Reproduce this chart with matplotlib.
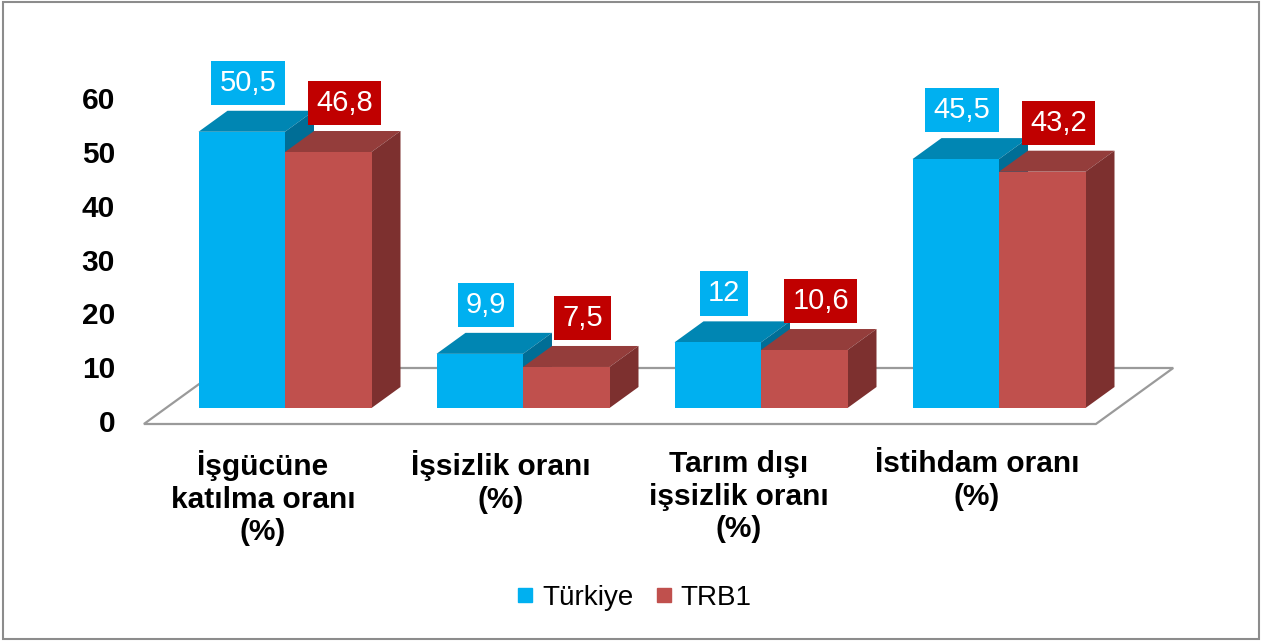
import matplotlib.pyplot as plt
from matplotlib.patches import Polygon, Rectangle
from matplotlib.lines import Line2D

plt.rcParams['font.family'] = ['Liberation Sans', 'DejaVu Sans']

# Data
categories = ['İşgücüne\nkatılma oranı\n(%)', 'İşsizlik oranı\n(%)',
              'Tarım dışı\nişsizlik oranı\n(%)', 'İstihdam oranı\n(%)']
turkiye = [50.5, 9.9, 12, 45.5]
trb1 = [46.8, 7.5, 10.6, 43.2]
series_names = ['Türkiye', 'TRB1']
yticks = [0, 10, 20, 30, 40, 50, 60]

# Colours (front, top, side, label box)
blue = ('#00B0F0', '#0086B3', '#006E96', '#00B0F0')
red = ('#C0504D', '#943D3B', '#7D302F', '#C00000')

# Layout in pixels (figure is 1262 x 642)
W, H = 1262, 642
PX0, CAT_PX = 285, 238        # pixel of category 0 centre, pixels per category
ZERO_PY, UNIT_PX = 408, 5.47  # pixel row of value 0, pixels per unit
DX, DY = 29 / CAT_PX, 21 / UNIT_PX   # oblique depth offset (one bar depth)
BAR_W = 86.5 / CAT_PX
FLOOR_D0, FLOOR_D1 = -16 / 21, 40 / 21


def xdata(px):
    return (px - PX0) / CAT_PX


def vdata(py):
    return (ZERO_PY - py) / UNIT_PX


def proj(x, v, d):
    return (x + d * DX, v + d * DY)


fig = plt.figure(figsize=(W / 100, H / 100), dpi=100)
ax = fig.add_axes([0, 0, 1, 1])
ax.set_xlim(xdata(0), xdata(W))
ax.set_ylim(vdata(H), vdata(0))
ax.axis('off')

# Floor
n = len(categories)
floor = [proj(-0.5, 0, FLOOR_D0), proj(n - 0.5, 0, FLOOR_D0),
         proj(n - 0.5, 0, FLOOR_D1), proj(-0.5, 0, FLOOR_D1)]
ax.add_patch(Polygon(floor, closed=True, facecolor='white', edgecolor='#9A9A9A',
                     lw=1.6, zorder=1))


def draw_bar(x0, v, cols):
    # front face
    ax.bar(x0, v, width=BAR_W, align='edge', color=cols[0], zorder=3)
    x1 = x0 + BAR_W
    top = [proj(x0, v, 0), proj(x1, v, 0), proj(x1, v, 1), proj(x0, v, 1)]
    side = [proj(x1, 0, 0), proj(x1, v, 0), proj(x1, v, 1), proj(x1, 0, 1)]
    ax.add_patch(Polygon(top, closed=True, facecolor=cols[1], edgecolor='none', zorder=2))
    ax.add_patch(Polygon(side, closed=True, facecolor=cols[2], edgecolor='none', zorder=2))


def draw_label(x0, v, cols, dx_pt):
    cx, cy = proj(x0 + BAR_W / 2, v, 1)
    ax.annotate(f'{v:g}'.replace('.', ','), xy=(x0 + BAR_W / 2, cy),
                xytext=(dx_pt, 10), textcoords='offset points',
                ha='center', va='bottom', fontsize=21, color='white', zorder=5,
                bbox=dict(boxstyle='square,pad=0.28', fc=cols[3], ec='none'))


for i in range(n):
    draw_bar(i - BAR_W, turkiye[i], blue)
    draw_bar(i, trb1[i], red)
    draw_label(i - BAR_W, turkiye[i], blue, 4.5)
    draw_label(i, trb1[i], red, 12)
    # category label centred under the floor front
    fx, fv = proj(i, 0, FLOOR_D0)
    ax.annotate(categories[i], xy=(fx, fv), xytext=(0, -19), textcoords='offset points',
                ha='center', va='top', fontsize=21.5, fontweight='bold',
                linespacing=1.2, zorder=5)

# Value axis tick labels
ax2 = fig.add_axes([120 / W, 0, 0.001, 1])
ax2.set_ylim((421 - H) / 5.383, 421 / 5.383)
ax2.set_yticks(yticks)
ax2.set_yticklabels([str(t) for t in yticks], fontsize=21.5, fontweight='bold')
ax2.tick_params(axis='y', length=0, pad=3.6)
ax2.set_xticks([])
for s in ax2.spines.values():
    s.set_visible(False)
ax2.patch.set_visible(False)

# Legend
handles = [Line2D([], [], marker='s', ls='none', color=c[0], markersize=10)
           for c in (blue, red)]
fig.legend(handles, series_names, loc='center', bbox_to_anchor=(635 / W, 1 - 598 / H),
           ncol=2, frameon=False, fontsize=20, handlelength=0.5,
           handletextpad=0.35, columnspacing=0.85)

# Outer border
fig.patches.append(Rectangle((3 / W, 3 / H), (W - 6) / W, (H - 5) / H, fill=False,
                             ec='#8C8C8C', lw=1.5, transform=fig.transFigure, figure=fig))

plt.savefig('out.png', dpi=100)
plt.close()
